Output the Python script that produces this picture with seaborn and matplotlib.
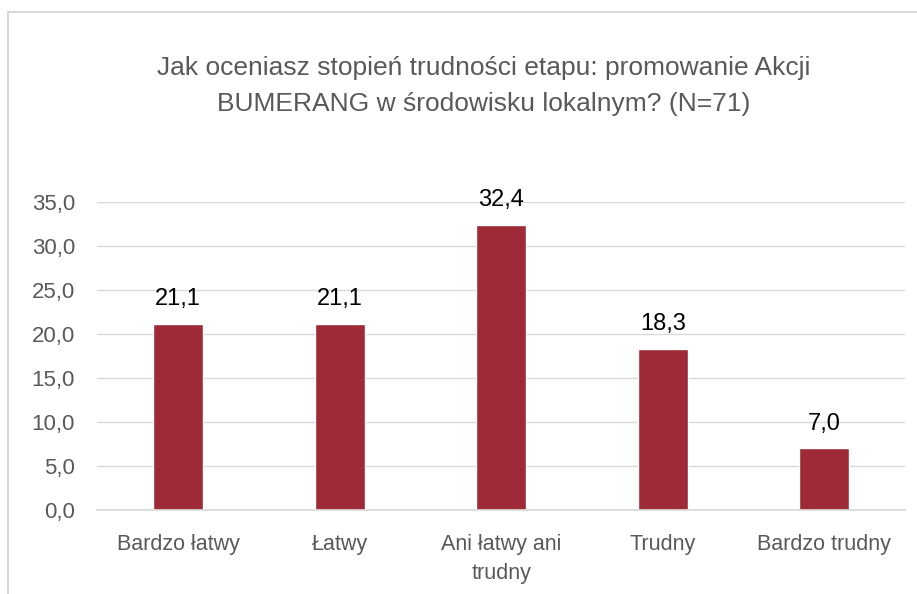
import matplotlib
matplotlib.use('Agg')
import matplotlib.pyplot as plt
import seaborn as sns
import pandas as pd
from matplotlib.patches import Rectangle

# dane z wykresu
categories = ['Bardzo łatwy', 'Łatwy', 'Ani łatwy ani\ntrudny', 'Trudny', 'Bardzo trudny']
values = [21.1, 21.1, 32.4, 18.3, 7.0]
title = 'Jak oceniasz stopień trudności etapu: promowanie Akcji\nBUMERANG w środowisku lokalnym? (N=71)'

df = pd.DataFrame({'kategoria': categories, 'procent': values})

sns.set_theme(style='white')
plt.rcParams['font.family'] = ['Liberation Sans Narrow', 'Liberation Sans', 'DejaVu Sans']

fig = plt.figure(figsize=(9.17, 5.94), dpi=100)
ax = fig.add_axes([0.106, 0.1414, 0.881, 0.5186])

sns.barplot(data=df, x='kategoria', y='procent', color='#9E2A38', saturation=1,
            width=0.31, ax=ax)

ax.set_ylim(0, 35)
ax.set_yticks(range(0, 36, 5))
ax.set_yticklabels([f'{v:.1f}'.replace('.', ',') for v in range(0, 36, 5)])
ax.yaxis.grid(True, color='#D9D9D9', linewidth=1)
ax.set_axisbelow(True)
for s in ['top', 'right', 'left']:
    ax.spines[s].set_visible(False)
ax.spines['bottom'].set_color('#D9D9D9')
ax.set_xlabel('')
ax.set_ylabel('')
ax.tick_params(axis='y', colors='#595959', labelsize=16, length=0, pad=16)
ax.tick_params(axis='x', colors='#595959', labelsize=15.5, length=0, pad=17)
for lbl in ax.get_xticklabels():
    lbl.set_linespacing(1.55)

for i, v in enumerate(values):
    ax.annotate(f'{v:.1f}'.replace('.', ','), (i, v), xytext=(0, 10),
                textcoords='offset points', ha='center', va='bottom',
                fontsize=17, color='black')

fig.text(0.527, 0.855, title, ha='center', va='center', fontsize=19,
         color='#595959', linespacing=1.6)

# ramka wykresu
fig.patches.append(Rectangle((8 / 917, -0.05), 1.1, 1 - 12 / 594 + 0.05,
                             transform=fig.transFigure, fill=False,
                             edgecolor='#D9D9D9', linewidth=1.5))

fig.savefig('out.png', dpi=100)
